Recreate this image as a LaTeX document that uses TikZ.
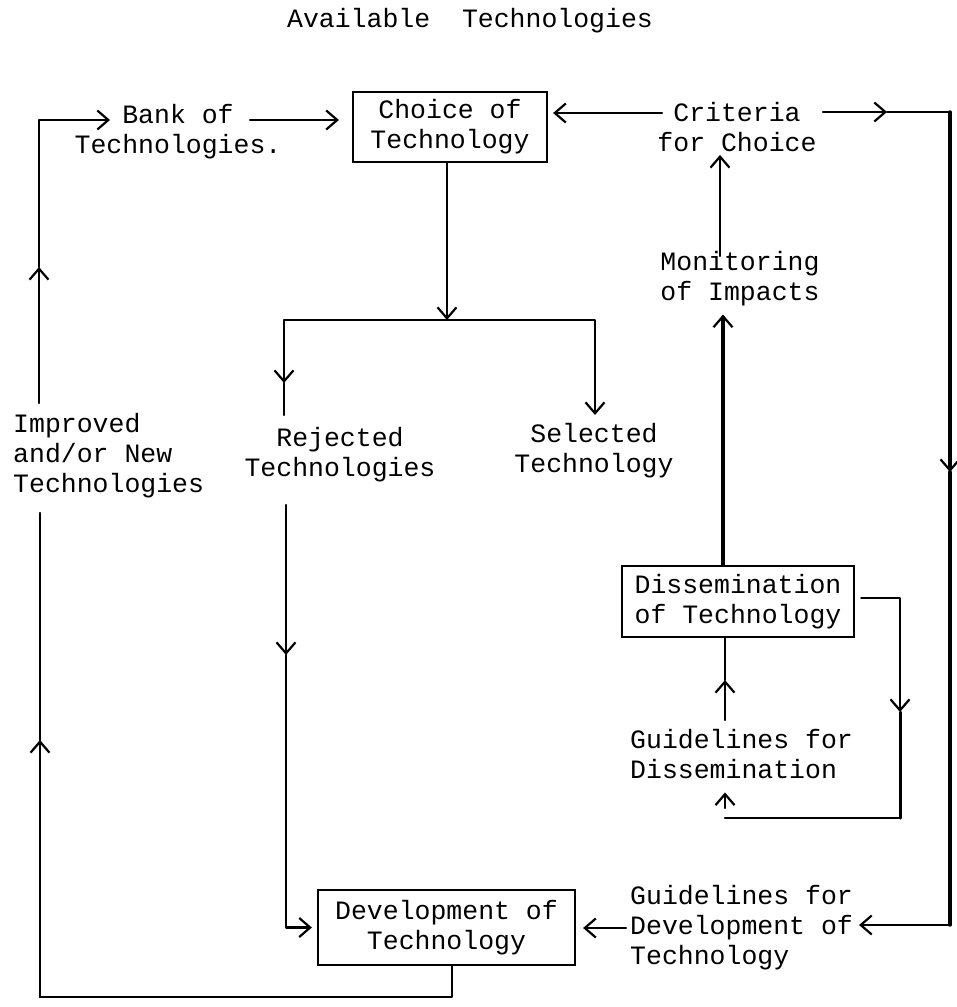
\documentclass[tikz,border=0pt]{standalone}
\usepackage{fontspec}
\newfontfamily\tw{Liberation Mono}
\usetikzlibrary{arrows.meta}
\begin{document}
\begin{tikzpicture}[x=1pt,y=-1pt,
  txt/.style={font=\tw\fontsize{26.5}{30}\selectfont, inner sep=0pt, align=center},
  box/.style={txt, draw, line width=2.2pt},
  ln/.style={line width=2.2pt, line cap=round, line join=round},
  arr/.style={ln, -{Straight Barb[length=11pt,width=19pt,line width=2.2pt]}},
]
\useasboundingbox (0,0) rectangle (957,1007);

% nodes
\node[txt] (title) at (470,21) {Available\ \ Technologies};
\node[txt] (bank) at (178,132) {Bank of\\Technologies.};
\node[box, minimum width=194pt, minimum height=70pt] (choice) at (450,127) {Choice of\\Technology};
\node[txt] (crit) at (737,127) {Criteria\\for Choice};
\node[txt] (mon) at (740,279) {Monitoring\\of Impacts};
\node[txt] (rej) at (340,455) {Rejected\\Technologies};
\node[txt] (sel) at (594,451) {Selected\\Technology};
\node[txt, align=left, anchor=west] (imp) at (13,456) {Improved\\and/or New\\Technologies};
\node[box, minimum width=232pt, minimum height=71pt] (dis) at (738,601.5) {Dissemination\\of Technology};
\node[txt, align=left, anchor=west] (gdis) at (630,754.5) {Guidelines for\\Dissemination};
\node[box, minimum width=257pt, minimum height=75pt] (dev) at (446.5,927.5) {Development of\\Technology};
\node[txt, align=left, anchor=west] (gdev) at (630,928) {Guidelines for\\Development of\\Technology};

% coordinates
\coordinate (impTop) at (39,403);
\coordinate (cTL) at (39,120);
\coordinate (bankIn) at (110,120);
\coordinate (bankOut) at (250,120);
\coordinate (critL) at (662,113);
\coordinate (critR) at (823,112);
\coordinate (rTop) at (950,112);
\coordinate (rBot) at (950,925);
\coordinate (split) at (447,320);
\coordinate (rejIn) at (284,415);
\coordinate (selIn) at (595,415);
\coordinate (rejOut) at (286,505);
\coordinate (impBot) at (40,513);
\coordinate (cBL) at (40,997);
\coordinate (monTop) at (720,256);
\coordinate (disR) at (900,598);
\coordinate (disB) at (900,818);
\coordinate (gdisOut) at (725,720);
\coordinate (gdisIn) at (725,808);

% left loop to bank
\draw[arr] (impTop) -- (39,267);
\draw[arr] (39,267) -- (cTL) -- (bankIn);
\draw[arr, shorten >=13pt] (bankOut) -- (choice.west |- bankOut);
% criteria
\draw[arr, shorten >=5pt] (critL) -- (choice.east |- critL);
\draw[arr] (critR) -- (887,112);
\draw[ln] (887,112) -- (rTop);
\draw[arr, line width=3.4pt] (rTop) -- (950,472);
\draw[ln, line width=3.4pt] (950,472) -- (rBot);
\draw[arr, shorten >=6pt] (rBot) -- (gdev.east |- rBot);
% choice split
\draw[arr] ([xshift=-3pt]choice.south) -- (split);
\draw[arr] (split) -| (selIn);
\draw[arr] (split) -| (284,383);
\draw[ln] (284,383) -- (rejIn);
% rejected to development
\draw[arr] (rejOut) -- (286,655);
\draw[arr, shorten >=5pt] (286,655) |- (dev.west);
% development loop
\draw[ln] ([xshift=5.5pt]dev.south) |- (cBL);
\draw[arr] (cBL) -- (40,740);
\draw[ln] (40,740) -- (impBot);
% guidelines for development
\draw[arr, shorten >=7pt] ([xshift=-4pt]gdev.west) -- (dev.east |- gdev.west);
% monitoring
\draw[arr, shorten >=3pt] (monTop) -- (crit.south -| monTop);
\draw[arr, line width=3.6pt, shorten >=8pt] ([xshift=-15pt]dis.north) -- ([xshift=-17pt]mon.south);
% guidelines for dissemination
\draw[arr] (gdisOut) -- (725,680);
\draw[ln] (725,680) -- ([xshift=-13pt]dis.south);
\draw[arr] ([xshift=6pt]dis.east |- disR) -- (disR) -- (900,712);
\draw[ln, line width=3pt] (900,712) -- (disB);
\draw[ln] (disB) -- (725,818);
\draw[arr, shorten >=13pt] (gdisIn) -- (gdis.south -| gdisIn);
\end{tikzpicture}
\end{document}
